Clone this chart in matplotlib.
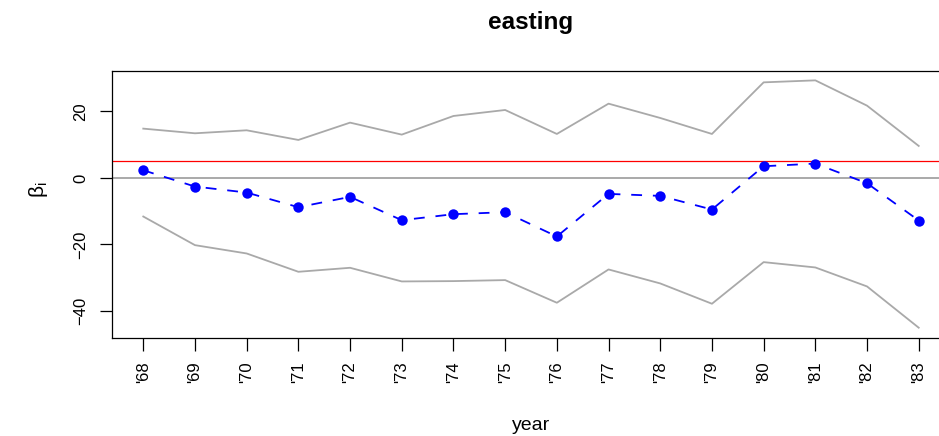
import matplotlib
matplotlib.use('Agg')
import matplotlib.pyplot as plt
import numpy as np

plt.rcParams['font.family'] = ['Liberation Sans', 'DejaVu Sans']
plt.rcParams['mathtext.default'] = 'regular'

years = ["'68", "'69", "'70", "'71", "'72", "'73", "'74", "'75",
         "'76", "'77", "'78", "'79", "'80", "'81", "'82", "'83"]
beta = [2.3, -2.6, -4.4, -8.8, -5.7, -12.7, -10.9, -10.3,
        -17.6, -4.8, -5.4, -9.5, 3.5, 4.3, -1.6, -12.8]
upper = [14.8, 13.4, 14.3, 11.4, 16.6, 13.0, 18.6, 20.4,
         13.2, 22.3, 18.0, 13.2, 28.7, 29.3, 21.7, 9.6]
lower = [-11.6, -20.2, -22.7, -28.2, -27.0, -31.1, -31.0, -30.7,
         -37.5, -27.5, -31.7, -37.8, -25.3, -26.9, -32.6, -45.0]
ref_line = 5
yticks = [-40, -20, 0, 20]

x = np.arange(len(years))

fig = plt.figure(figsize=(9.39, 4.36), dpi=100)
W, H = 939, 436
ax = fig.add_axes([112 / W, 1 - 337.7 / H, (950 - 112) / W, (337.7 - 70.7) / H])

grey = '#A9A9A9'
ax.plot(x, upper, color=grey, lw=1.3)
ax.plot(x, lower, color=grey, lw=1.3)
ax.axhline(0, color=grey, lw=1.4)
ax.axhline(ref_line, color='red', lw=0.9)
ax.plot(x, beta, color='blue', lw=1.3, linestyle=(0, (6, 6)),
        marker='o', ms=7.5, markeredgewidth=0)

ax.set_xlim(-0.605, len(years) - 1 + 0.605)
ax.set_ylim(-48.0, 32.2)

ax.set_xticks(x)
ax.set_xticklabels(years, rotation=90, fontsize=12)
ax.set_yticks(yticks)
ax.set_yticklabels([str(v).replace('-', '\u2212') for v in yticks],
                   rotation=90, va='center', fontsize=12)
ax.tick_params(axis='both', length=9, width=0.9, pad=8)

for s in ax.spines.values():
    s.set_linewidth(0.9)

fig.text(531 / W, 1 - 22 / H, 'easting', ha='center', va='center',
         fontsize=17.5, fontweight='bold')
fig.text(531 / W, 1 - 425 / H, 'year', ha='center', va='center', fontsize=14)
fig.text(38 / W, 1 - 190 / H, r'$\beta_i$', ha='center', va='center',
         fontsize=15, rotation=90)

fig.savefig('out.png', dpi=100)
